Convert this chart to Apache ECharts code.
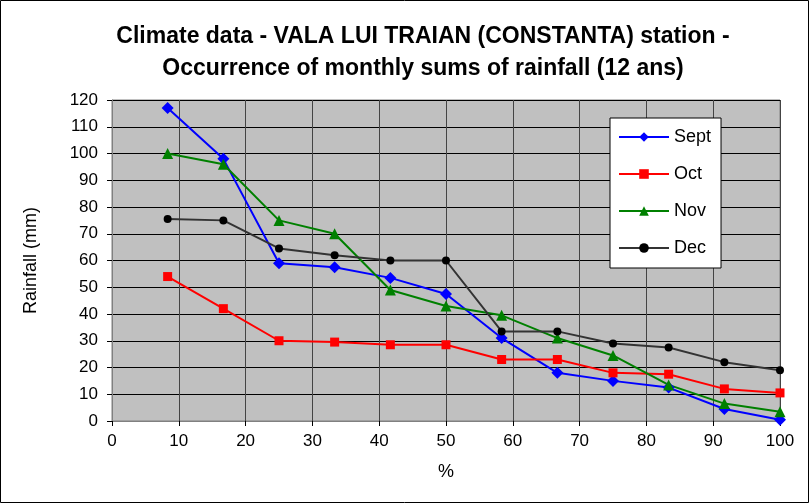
<!DOCTYPE html>
<html>
<head>
<meta charset="utf-8">
<script src="https://cdn.jsdelivr.net/npm/echarts@6/dist/echarts.min.js"></script>
<style>
  html, body { margin: 0; padding: 0; background: #fff; }
  #chart { width: 810px; height: 504px; }
</style>
</head>
<body>
<div id="chart"></div>
<script>
// Occurrence percentages (12 years -> steps of 100/12)
const pct = [8.33, 16.67, 25, 33.33, 41.67, 50, 58.33, 66.67, 75, 83.33, 91.67, 100];

// Monthly rainfall sums (mm), sorted descending
const sept = [117, 98, 59, 57.5, 53.5, 47.5, 31, 18, 15, 12.5, 4.5, 0.5];
const oct  = [54, 42, 30, 29.5, 28.5, 28.5, 23, 23, 18, 17.5, 12, 10.5];
const nov  = [100, 96, 75, 70, 49, 43, 39.5, 31, 24.5, 13.5, 6.5, 3.5];
const dec  = [75.5, 75, 64.5, 62, 60, 60, 33.5, 33.5, 29, 27.5, 22, 19];

const titleLines = ['Climate data - VALA LUI TRAIAN (CONSTANTA) station -',
                    'Occurrence of monthly sums of rainfall (12 ans)'];

const font = '"Liberation Sans", Arial, sans-serif';

function pairs(ys) { return pct.map((x, i) => [x, ys[i]]); }

function mkSeries(name, ys, lineColor, markColor, symbol, size) {
  return {
    name: name,
    type: 'line',
    data: pairs(ys),
    symbol: symbol,
    symbolSize: size,
    lineStyle: { color: lineColor, width: 2 },
    itemStyle: { color: markColor },
    emphasis: { disabled: true },
    animation: false
  };
}

const chart = echarts.init(document.getElementById('chart'));
chart.setOption({
  backgroundColor: '#ffffff',
  animation: false,
  title: {
    text: titleLines.join('\n'),
    left: 418,
    textAlign: 'center',
    top: 16,
    textStyle: { fontFamily: font, fontWeight: 'bold', fontSize: 23, lineHeight: 32, color: '#000' }
  },
  graphic: [{
    type: 'rect',
    shape: { x: 0.5, y: 0.5, width: 808, height: 502 },
    style: { fill: 'none', stroke: '#000', lineWidth: 1 },
    silent: true
  }],
  grid: {
    left: 112, right: 30, top: 100, bottom: 83,
    show: true,
    backgroundColor: '#c0c0c0',
    borderColor: '#808080',
    borderWidth: 1
  },
  legend: {
    orient: 'vertical',
    left: 610,
    top: 118,
    width: 110,
    backgroundColor: '#ffffff',
    borderColor: '#000',
    borderWidth: 1,
    padding: [10, 10, 11, 8],
    itemGap: 19,
    itemWidth: 50,
    itemHeight: 12,
    textStyle: { fontFamily: font, fontSize: 18, color: '#000' },
    data: ['Sept', 'Oct', 'Nov', 'Dec']
  },
  xAxis: {
    type: 'value',
    min: 0, max: 100, interval: 10,
    name: '%',
    nameLocation: 'middle',
    nameGap: 42,
    nameTextStyle: { fontFamily: font, fontSize: 18, color: '#000' },
    axisLine: { lineStyle: { color: '#808080', width: 1 } },
    axisTick: { show: true, inside: false, length: 5, lineStyle: { color: '#000' } },
    axisLabel: { fontFamily: font, fontSize: 17, color: '#000', margin: 12 },
    splitLine: { show: true, lineStyle: { color: '#444', width: 1 } }
  },
  yAxis: {
    type: 'value',
    min: 0, max: 120, interval: 10,
    name: 'Rainfall (mm)',
    nameLocation: 'middle',
    nameGap: 72,
    nameRotate: 90,
    nameTextStyle: { fontFamily: font, fontSize: 18, color: '#000' },
    axisLine: { show: true, lineStyle: { color: '#808080', width: 1 } },
    axisTick: { show: true, inside: false, length: 5, lineStyle: { color: '#000' } },
    axisLabel: { fontFamily: font, fontSize: 17, color: '#000', margin: 14 },
    splitLine: { show: true, lineStyle: { color: '#000', width: 1 } }
  },
  series: [
    mkSeries('Sept', sept, '#0000ff', '#0000ff', 'diamond', 12),
    mkSeries('Oct', oct, '#ff0000', '#ff0000', 'rect', 9),
    mkSeries('Nov', nov, '#008000', '#008000', 'triangle', 11),
    mkSeries('Dec', dec, '#333333', '#000000', 'circle', 8)
  ]
});
</script>
</body>
</html>
